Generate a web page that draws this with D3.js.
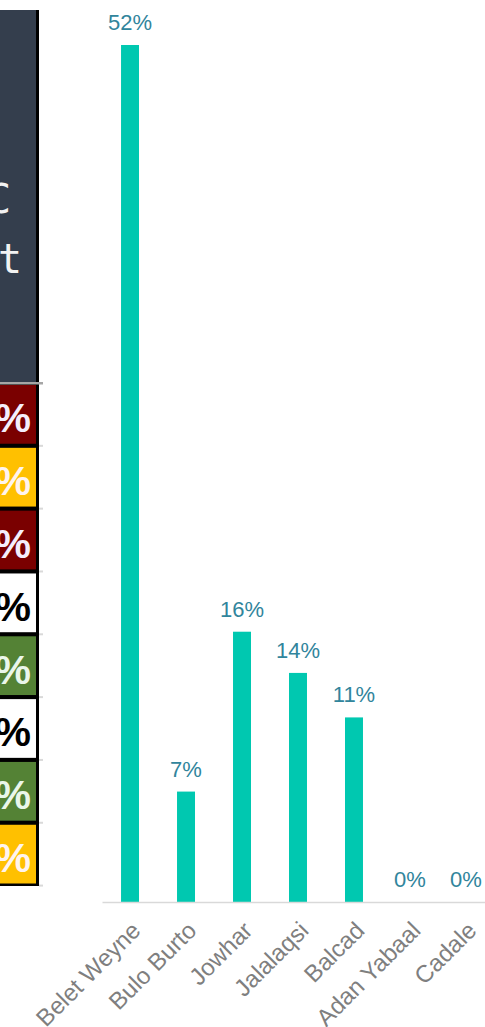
<!DOCTYPE html>
<html>
<head>
<meta charset="utf-8">
<script src="https://cdn.jsdelivr.net/npm/d3@7"></script>
<style>
  body { margin: 0; background: #fff; }
  svg { display: block; font-family: "Liberation Sans", Arial, sans-serif; }
</style>
</head>
<body>
<div id="chart"></div>
<script>
// districts on the x axis
const districts = ["Belet Weyne", "Bulo Burto", "Jowhar", "Jalalaqsi", "Balcad", "Adan Yabaal", "Cadale"];
// share per district
const shares = [0.52, 0.067, 0.164, 0.139, 0.112, 0, 0];

// the clipped table on the left: one status per row
const rowStatus = ["red", "amber", "red", "none", "green", "none", "green", "amber"];
const titleBits = ["C", "t"];

const width = 485;
const height = 1027;

const svg = d3.select("#chart")
  .append("svg")
  .attr("width", width)
  .attr("height", height);

// ---- left table (cut off by the window) ----
const statusFill = d3.scaleOrdinal()
  .domain(["red", "amber", "none", "green"])
  .range(["#7a0000", "#ffc000", "#ffffff", "#548235"]);
const statusText = d3.scaleOrdinal()
  .domain(["red", "amber", "none", "green"])
  .range(["#f4eefc", "#fff4ee", "#000000", "#eaf6ea"]);

const table = svg.append("g");

// dark title panel
table.append("rect")
  .attr("x", 0).attr("y", 10)
  .attr("width", 36).attr("height", 373)
  .attr("fill", "#343e4d");

table.selectAll(".title-bit")
  .data(titleBits)
  .enter()
  .append("text")
  .attr("x", (d, i) => i === 0 ? 11 : 22)
  .attr("y", (d, i) => 213 + i * 60)
  .attr("text-anchor", "end")
  .attr("fill", "#f2f2f2")
  .style("font-family", "'DejaVu Sans Mono', monospace")
  .style("font-size", "40px")
  .text(d => d);

// black frame behind the rows
table.append("rect")
  .attr("x", 0).attr("y", 383)
  .attr("width", 39).attr("height", 503)
  .attr("fill", "#000");
table.append("rect")
  .attr("x", 36).attr("y", 10)
  .attr("width", 3).attr("height", 375)
  .attr("fill", "#000");

const rowY = d3.scaleBand()
  .domain(d3.range(rowStatus.length))
  .range([385, 883.5])
  .paddingInner(0.065)
  .paddingOuter(0);

const rows = table.selectAll(".row")
  .data(rowStatus)
  .enter()
  .append("g")
  .attr("class", "row");

rows.append("rect")
  .attr("x", 0)
  .attr("y", (d, i) => rowY(i))
  .attr("width", 36)
  .attr("height", rowY.bandwidth())
  .attr("fill", d => statusFill(d));

rows.append("text")
  .attr("x", 31)
  .attr("y", (d, i) => rowY(i) + rowY.bandwidth() / 2 + 18)
  .attr("text-anchor", "end")
  .attr("fill", d => statusText(d))
  .style("font-size", "41px")
  .style("font-weight", "bold")
  .text("%");

// grey rule under the title and little ticks at row edges
table.append("rect")
  .attr("x", 0).attr("y", 382)
  .attr("width", 43).attr("height", 2.5)
  .attr("fill", "#a6a6a6");
table.selectAll(".row-tick")
  .data(d3.range(1, rowStatus.length + 1))
  .enter()
  .append("rect")
  .attr("x", 39)
  .attr("y", i => rowY(i - 1) + rowY.step() - 3)
  .attr("width", 4)
  .attr("height", 2)
  .attr("fill", "#d9d9d9");

// ---- bar chart ----
const x = d3.scaleBand()
  .domain(districts)
  .range([102, 494])
  .paddingInner(0.679)
  .paddingOuter(0.34);

const y = d3.scaleLinear()
  .domain([0, 0.52])
  .range([902, 45]);

svg.append("g")
  .selectAll("rect")
  .data(shares)
  .enter()
  .append("rect")
  .attr("x", (d, i) => x(districts[i]))
  .attr("y", d => y(d))
  .attr("width", x.bandwidth())
  .attr("height", d => y(0) - y(d))
  .attr("fill", "#00c8b0");

// value labels
svg.append("g")
  .selectAll("text")
  .data(shares)
  .enter()
  .append("text")
  .attr("x", (d, i) => x(districts[i]) + x.bandwidth() / 2)
  .attr("y", d => y(d) - 15)
  .attr("text-anchor", "middle")
  .attr("fill", "#31859c")
  .style("font-size", "22px")
  .text(d => d3.format(".0%")(d));

// x axis
const xAxis = d3.axisBottom(x).tickSize(0).tickSizeOuter(0);

const axisG = svg.append("g")
  .attr("transform", `translate(0,${y(0)})`)
  .call(xAxis);

axisG.select(".domain")
  .attr("stroke", "#d9d9d9")
  .attr("stroke-width", 1.5);

axisG.selectAll("text")
  .attr("x", 0)
  .attr("y", 0)
  .attr("dy", null)
  .attr("text-anchor", "end")
  .attr("transform", "translate(12,30) rotate(-45)")
  .attr("fill", "#7f7f7f")
  .style("font-family", "'Liberation Sans', Arial, sans-serif")
  .style("font-size", "24px");
</script>
</body>
</html>
